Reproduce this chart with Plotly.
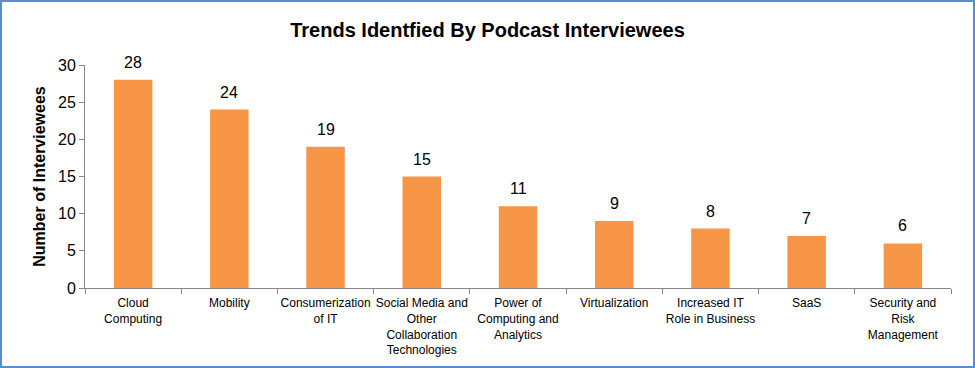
import plotly.graph_objects as go

categories = [
    "Cloud<br>Computing",
    "Mobility",
    "Consumerization<br>of IT",
    "Social Media and<br>Other<br>Collaboration<br>Technologies",
    "Power of<br>Computing and<br>Analytics",
    "Virtualization",
    "Increased IT<br>Role in Business",
    "SaaS",
    "Security and<br>Risk<br>Management",
]
values = [28, 24, 19, 15, 11, 9, 8, 7, 6]
y_ticks = [0, 5, 10, 15, 20, 25, 30]

W, H = 975, 368
L, R, T, B = 85, 24, 65, 80
pw, ph = W - L - R, H - T - B

fig = go.Figure(go.Bar(
    x=categories, y=values,
    marker=dict(color="#F79646", line=dict(width=0)),
    width=0.4,
    hoverinfo="x+y",
))

for c, v in zip(categories, values):
    fig.add_annotation(x=c, y=v, text=str(v), showarrow=False,
                       xanchor="center", yanchor="bottom", yshift=7,
                       font=dict(family="Arial", size=16, color="#000000"))

fig.update_layout(
    width=W, height=H,
    margin=dict(l=L, r=R, t=T, b=B),
    paper_bgcolor="white", plot_bgcolor="white",
    title=dict(text="<b>Trends Identfied By Podcast Interviewees</b>",
               x=0.5, xanchor="center", y=1 - 30 / H, yanchor="middle",
               font=dict(family="Arial", size=20, color="#000000")),
    showlegend=False,
    font=dict(family="Arial", color="#000000"),
)
fig.update_xaxes(
    type="category", showline=True, linecolor="#888888", linewidth=1,
    ticks="outside", tickson="boundaries", ticklen=5, tickcolor="#888888",
    tickfont=dict(family="Arial", size=12, color="#000000"),
    showgrid=False, tickangle=0, automargin=False, ticklabelstandoff=4,
)
fig.update_yaxes(
    range=[0, 30], tickvals=y_ticks, showline=True, linecolor="#888888",
    linewidth=1, ticks="outside", ticklen=5, tickcolor="#888888",
    tickfont=dict(family="Arial", size=16, color="#000000"),
    showgrid=False, zeroline=False, automargin=False,
    title=dict(text="<b>Number of Interviewees</b>", standoff=8,
               font=dict(family="Arial", size=16, color="#000000")),
)
# outer border around the whole image
fig.add_shape(type="rect", xref="paper", yref="paper",
              x0=(1 - L) / pw, x1=1 + (R - 1) / pw,
              y0=-(B - 1) / ph, y1=1 + (T - 1) / ph,
              line=dict(color="#5B8BD6", width=2), layer="above")

fig.write_html("out.html", config={"displayModeBar": False},
               post_script="document.body.style.margin='0';document.body.style.padding='0';")
